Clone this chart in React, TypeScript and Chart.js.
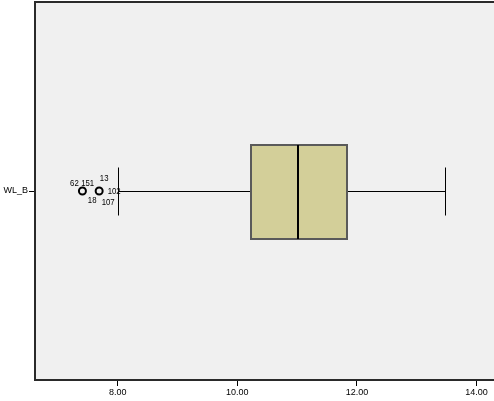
import React, { useEffect, useRef } from 'react';
import { Chart, registerables } from 'chart.js';

Chart.register(...registerables);

// ---- Data ----
const categories = ['WL_B'];
const q1Values = [10.23];
const medianValues = [11.02];
const q3Values = [11.84];
const whiskerLowValues = [8.0];
const whiskerHighValues = [13.47];
const outlierValues = [7.41, 7.69];
const outlierLabels = [['62'], ['151', '13', '102', '18', '107']];
const xTickValues = [8, 10, 12, 14];
const xMin = 6.617;
const xMax = 14.293;

// ---- Styles ----
const FONT = 'Liberation Sans, Arial, sans-serif';
const BG = '#f0f0f0';
const BOX_FILL = '#d3cf99';
const BOX_HALF_PX = 47;
const CAP_HALF_PX = 24;
const LABEL_SCALE_X = 0.82;
// pixel offsets of each outlier's case-number labels, relative to the point
const LABEL_OFFSETS = [
  [[-8, -8]],
  [[-11.5, -8], [5, -13], [15, 0], [-7, 9], [9, 11]],
];

const boxPlugin = {
  id: 'boxplot',
  beforeDraw(chart: any) {
    const { ctx, chartArea } = chart;
    ctx.save();
    ctx.fillStyle = BG;
    ctx.fillRect(chartArea.left, chartArea.top, chartArea.right - chartArea.left, chartArea.bottom - chartArea.top);
    ctx.strokeStyle = '#2a2a2a';
    ctx.lineWidth = 2;
    ctx.beginPath();
    ctx.moveTo(chartArea.left - 1, chartArea.top);
    ctx.lineTo(chartArea.right, chartArea.top);
    ctx.stroke();
    ctx.restore();
  },
  beforeDatasetsDraw(chart: any) {
    const { ctx } = chart;
    const xs = chart.scales.x;
    const ys = chart.scales.y;
    categories.forEach((_, i) => {
      const yc = Math.round(ys.getPixelForValue(0.5)) + 0.5;
      const xLo = Math.round(xs.getPixelForValue(whiskerLowValues[i])) + 0.5;
      const xHi = Math.round(xs.getPixelForValue(whiskerHighValues[i])) + 0.5;
      const xq1 = Math.round(xs.getPixelForValue(q1Values[i]));
      const xq3 = Math.round(xs.getPixelForValue(q3Values[i]));
      const xm = Math.round(xs.getPixelForValue(medianValues[i]));
      ctx.save();
      ctx.strokeStyle = '#000';
      ctx.lineWidth = 1;
      ctx.beginPath();
      ctx.moveTo(xLo, yc);
      ctx.lineTo(xq1, yc);
      ctx.moveTo(xq3, yc);
      ctx.lineTo(xHi, yc);
      ctx.moveTo(xLo, yc - CAP_HALF_PX);
      ctx.lineTo(xLo, yc + CAP_HALF_PX);
      ctx.moveTo(xHi, yc - CAP_HALF_PX);
      ctx.lineTo(xHi, yc + CAP_HALF_PX);
      ctx.stroke();
      const top = Math.round(yc - BOX_HALF_PX);
      const h = BOX_HALF_PX * 2;
      ctx.fillStyle = BOX_FILL;
      ctx.fillRect(xq1, top, xq3 - xq1, h);
      ctx.strokeStyle = '#5a5a5a';
      ctx.lineWidth = 2;
      ctx.strokeRect(xq1, top, xq3 - xq1, h);
      ctx.strokeStyle = '#000';
      ctx.lineWidth = 2;
      ctx.beginPath();
      ctx.moveTo(xm, top);
      ctx.lineTo(xm, top + h);
      ctx.stroke();
      ctx.restore();
    });
  },
  afterDatasetsDraw(chart: any) {
    const { ctx } = chart;
    const xs = chart.scales.x;
    const ys = chart.scales.y;
    ctx.save();
    ctx.fillStyle = '#000';
    ctx.font = `9.5px ${FONT}`;
    ctx.textAlign = 'center';
    ctx.textBaseline = 'middle';
    outlierValues.forEach((v, i) => {
      const px = xs.getPixelForValue(v);
      const py = ys.getPixelForValue(0.5);
      outlierLabels[i].forEach((lab, j) => {
        const off = LABEL_OFFSETS[i][j] || [0, -8];
        ctx.save();
        ctx.translate(px + off[0], py + off[1]);
        ctx.scale(LABEL_SCALE_X, 1);
        ctx.fillText(lab, 0, 0);
        ctx.restore();
      });
    });
    ctx.restore();
  },
};

export default function App() {
  const ref = useRef<HTMLCanvasElement>(null);
  useEffect(() => {
    if (!ref.current) return;
    const chart = new Chart(ref.current, {
      type: 'scatter',
      data: {
        datasets: [
          {
            label: 'outliers',
            data: outlierValues.map((v) => ({ x: v, y: 0.5 })),
            pointRadius: 3.5,
            pointBorderWidth: 2,
            pointBorderColor: '#000',
            pointBackgroundColor: BG,
            pointStyle: 'circle',
          },
        ],
      },
      options: {
        animation: false,
        responsive: true,
        maintainAspectRatio: false,
        layout: { autoPadding: false, padding: { top: 2, left: 0, right: 0, bottom: 0 } },
        plugins: { legend: { display: false }, tooltip: { enabled: false } },
        scales: {
          x: {
            type: 'linear',
            min: xMin,
            max: xMax,
            afterBuildTicks: (s: any) => {
              s.ticks = xTickValues.map((v) => ({ value: v }));
            },
            afterFit: (s: any) => {
              s.height = 21;
              s.paddingLeft = 0;
              s.paddingRight = 0;
            },
            grid: { drawOnChartArea: false, drawTicks: true, tickLength: 6, tickColor: '#000' },
            border: { display: true, color: '#2a2a2a', width: 2 },
            ticks: {
              color: '#000',
              padding: 1,
              maxRotation: 0,
              autoSkip: false,
              font: { family: FONT, size: 9 },
              callback: (v: any) => Number(v).toFixed(2),
            },
          },
          y: {
            type: 'linear',
            min: 0,
            max: 1,
            afterBuildTicks: (s: any) => {
              s.ticks = [{ value: 0.5 }];
            },
            afterFit: (s: any) => {
              s.width = 35;
              s.paddingTop = 0;
              s.paddingBottom = 0;
            },
            grid: { drawOnChartArea: false, drawTicks: true, tickLength: 6, tickColor: '#000' },
            border: { display: true, color: '#2a2a2a', width: 2 },
            ticks: {
              color: '#000',
              padding: 1,
              font: { family: FONT, size: 9 },
              callback: () => categories[0],
            },
          },
        },
      },
      plugins: [boxPlugin],
    });
    return () => chart.destroy();
  }, []);
  return (
    <div style={{ position: 'absolute', left: 0, top: 0, width: 494, height: 401, background: '#fff' }}>
      <canvas ref={ref} />
    </div>
  );
}
